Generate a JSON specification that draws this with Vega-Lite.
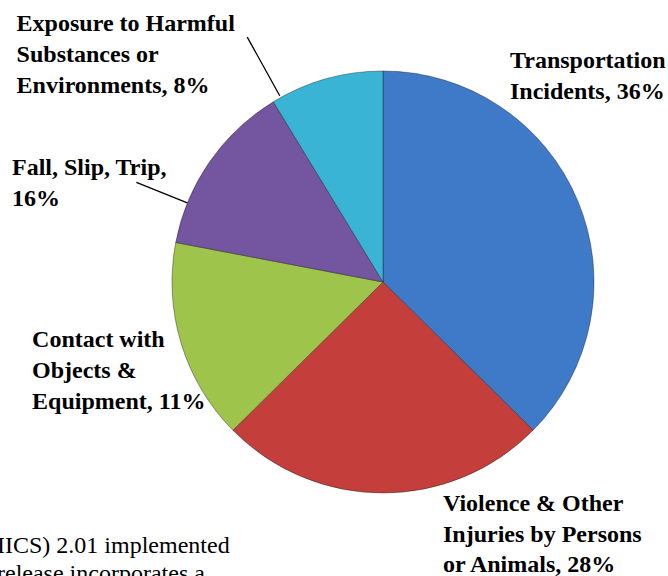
{
  "$schema": "https://vega.github.io/schema/vega-lite/v6.json",
  "autosize": "none",
  "width": 570,
  "height": 564,
  "padding": {"left": 98, "top": 0, "right": 0, "bottom": 12},
  "background": "white",
  "config": {"view": {"stroke": null}},
  "title": {
    "text": ["IICS) 2.01 implemented", "\u00a0\u00a0release incorporates a"],
    "orient": "bottom",
    "anchor": "start",
    "frame": "group",
    "align": "left",
    "baseline": "alphabetic",
    "font": "Liberation Serif",
    "fontSize": 24,
    "fontWeight": "normal",
    "color": "black",
    "lineHeight": 28,
    "offset": -24,
    "dx": -101
  },
  "data": {
    "values": [
      {"category": "Transportation Incidents", "share": 37.4, "rank": 1, "label": "Transportation\nIncidents, 36%"},
      {"category": "Violence & Other Injuries by Persons or Animals", "share": 25.2, "rank": 2, "label": "Violence & Other\nInjuries by Persons\nor Animals, 28%"},
      {"category": "Contact with Objects & Equipment", "share": 15.4, "rank": 3, "label": "Contact with\nObjects &\nEquipment, 11%"},
      {"category": "Fall, Slip, Trip", "share": 13.3, "rank": 4, "label": "Fall, Slip, Trip,\n16%"},
      {"category": "Exposure to Harmful Substances or Environments", "share": 8.7, "rank": 5, "label": "Exposure to Harmful\nSubstances or\nEnvironments, 8%"}
    ]
  },
  "encoding": {
    "theta": {"field": "share", "type": "quantitative", "stack": true},
    "order": {"field": "rank", "type": "quantitative"}
  },
  "layer": [
    {
      "mark": {"type": "arc", "outerRadius": 211, "stroke": "#1a1a1a", "strokeOpacity": 0.4, "strokeWidth": 1},
      "encoding": {
        "color": {
          "field": "category",
          "type": "nominal",
          "scale": {
            "domain": ["Transportation Incidents", "Violence & Other Injuries by Persons or Animals", "Contact with Objects & Equipment", "Fall, Slip, Trip", "Exposure to Harmful Substances or Environments"],
            "range": ["#3E7AC7", "#C43F3C", "#9EC44C", "#7355A0", "#3AB4D5"]
          },
          "legend": null
        }
      }
    },
    {
      "mark": {"type": "arc", "innerRadius": 213, "outerRadius": 280, "padAngle": 3, "thetaOffset": -0.2328, "fillOpacity": 0, "stroke": "black", "strokeWidth": 1.3},
      "encoding": {
        "detail": {"field": "category"},
        "strokeOpacity": {"condition": {"test": "datum.rank === 5", "value": 1}, "value": 0}
      }
    },
    {
      "mark": {"type": "arc", "innerRadius": 211, "outerRadius": 266, "padAngle": 3, "thetaOffset": -0.2224, "fillOpacity": 0, "stroke": "black", "strokeWidth": 1.3},
      "encoding": {
        "detail": {"field": "category"},
        "strokeOpacity": {"condition": {"test": "datum.rank === 4", "value": 1}, "value": 0}
      }
    },
    {
      "mark": {"type": "text", "radius": 230, "dx": -85.2, "dy": -125.2, "align": "left", "baseline": "alphabetic", "font": "Liberation Serif", "fontSize": 24, "fontWeight": "bold", "lineHeight": 30.7, "lineBreak": "\n", "color": "black"},
      "encoding": {
        "detail": {"field": "category"},
        "text": {"field": "label", "type": "nominal", "condition": {"test": "datum.rank !== 1", "value": ""}}
      }
    },
    {
      "mark": {"type": "text", "radius": 230, "dx": 60, "dy": -1, "align": "left", "baseline": "alphabetic", "font": "Liberation Serif", "fontSize": 24, "fontWeight": "bold", "lineHeight": 30.7, "lineBreak": "\n", "color": "black"},
      "encoding": {
        "detail": {"field": "category"},
        "text": {"field": "label", "type": "nominal", "condition": {"test": "datum.rank !== 2", "value": ""}}
      }
    },
    {
      "mark": {"type": "text", "radius": 230, "dx": -130.9, "dy": -1.7, "align": "left", "baseline": "alphabetic", "font": "Liberation Serif", "fontSize": 24, "fontWeight": "bold", "lineHeight": 30.7, "lineBreak": "\n", "color": "black"},
      "encoding": {
        "detail": {"field": "category"},
        "text": {"field": "label", "type": "nominal", "condition": {"test": "datum.rank !== 3", "value": ""}}
      }
    },
    {
      "mark": {"type": "text", "radius": 230, "dx": -182, "dy": 24.1, "align": "left", "baseline": "alphabetic", "font": "Liberation Serif", "fontSize": 24, "fontWeight": "bold", "lineHeight": 30.7, "lineBreak": "\n", "color": "black"},
      "encoding": {
        "detail": {"field": "category"},
        "text": {"field": "label", "type": "nominal", "condition": {"test": "datum.rank !== 4", "value": ""}}
      }
    },
    {
      "mark": {"type": "text", "radius": 230, "dx": -304.3, "dy": -29.1, "align": "left", "baseline": "alphabetic", "font": "Liberation Serif", "fontSize": 24, "fontWeight": "bold", "lineHeight": 30.7, "lineBreak": "\n", "color": "black"},
      "encoding": {
        "detail": {"field": "category"},
        "text": {"field": "label", "type": "nominal", "condition": {"test": "datum.rank !== 5", "value": ""}}
      }
    }
  ]
}
